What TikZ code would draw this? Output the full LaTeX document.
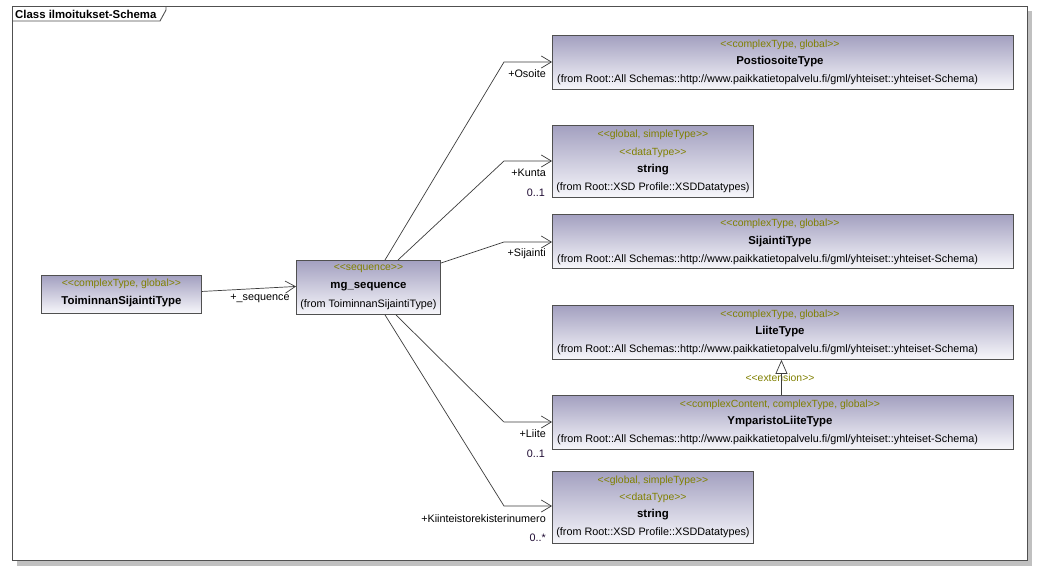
\documentclass[tikz,border=0pt]{standalone}
\usepackage{fontspec}
\setmainfont{Liberation Sans}[Ligatures=TeXOff]
\usetikzlibrary{arrows.meta}
\definecolor{stereo}{RGB}{128,128,0}
\definecolor{boxtop}{RGB}{163,160,192}
\definecolor{boxbot}{RGB}{247,247,251}
\definecolor{boxline}{RGB}{80,80,80}
\definecolor{connline}{RGB}{60,60,60}
\definecolor{shadowgray}{RGB}{192,192,192}
\definecolor{multcol}{RGB}{30,10,50}
\tikzset{
  cls/.style={draw=boxline, line width=0.9pt, top color=boxtop, bottom color=boxbot,
    anchor=north west, inner sep=0pt},
  txt/.style={inner sep=0pt, font=\fontsize{10.8}{12}\selectfont},
  fromw/.style={txt, anchor=west},
  st/.style={inner sep=0pt, text=stereo, font=\fontsize{10.4}{12}\selectfont},
  nm/.style={inner sep=0pt, font=\fontsize{11.4}{13}\selectfont\bfseries},
  lbl/.style={txt, anchor=east},
  mult/.style={txt, anchor=east, text=multcol},
  conn/.style={draw=connline, line width=0.7pt, -{Straight Barb[length=10pt,width=12pt]}},
  gen/.style={draw=connline, line width=0.7pt, -{Triangle[open, length=14pt, width=12pt, fill=white]}}
}
\begin{document}
\begin{tikzpicture}[x=1pt,y=-1pt]
\useasboundingbox (0,0) rectangle (1053,581);
\fill[white] (0,0) rectangle (1053,581);
% frame
\fill[shadowgray] (17,11) rectangle (1032,566);
\draw[boxline, line width=0.9pt, fill=white] (12,6) rectangle (1027,560);
\draw[boxline, line width=0.9pt] (12,21) -- (160,21) -- (166,10) -- (166,6);
\node[nm, anchor=west] (title) at (15,14) {Class ilmoitukset-Schema};

% boxes
\node[cls, minimum width=160pt, minimum height=38pt] (tst) at (41,275) {};
\node[st] (tst-s) at ([yshift=-9pt]tst.north) {<<complexType, global>>};
\node[nm] (tst-n) at ([yshift=-27pt]tst.north) {ToiminnanSijaintiType};

\node[cls, minimum width=144pt, minimum height=54pt] (mgs) at (296,260) {};
\node[st] (mgs-s) at ([yshift=-9pt]mgs.north) {<<sequence>>};
\node[nm] (mgs-n) at ([yshift=-27pt]mgs.north) {mg\_sequence};
\node[txt] (mgs-f) at ([yshift=-45pt]mgs.north) {(from ToiminnanSijaintiType)};

\node[cls, minimum width=461pt, minimum height=54pt] (post) at (552,35) {};
\node[st] (post-s) at ([xshift=-3pt,yshift=-10pt]post.north) {<<complexType, global>>};
\node[nm] (post-n) at ([xshift=-3pt,yshift=-27pt]post.north) {PostiosoiteType};
\node[fromw] (post-f) at ([xshift=5pt,yshift=-45pt]post.north west) {(from Root::All Schemas::http://www.paikkatietopalvelu.fi/gml/yhteiset::yhteiset-Schema)};

\node[cls, minimum width=201pt, minimum height=72pt] (str1) at (552,125) {};
\node[st] (str1-s) at ([yshift=-10pt]str1.north) {<<global, simpleType>>};
\node[st] (str1-d) at ([yshift=-28pt]str1.north) {<<dataType>>};
\node[nm] (str1-n) at ([yshift=-45pt]str1.north) {string};
\node[txt] (str1-f) at ([yshift=-63pt]str1.north) {(from Root::XSD Profile::XSDDatatypes)};

\node[cls, minimum width=461pt, minimum height=54pt] (sij) at (552,214) {};
\node[st] (sij-s) at ([xshift=-3pt,yshift=-10pt]sij.north) {<<complexType, global>>};
\node[nm] (sij-n) at ([xshift=-3pt,yshift=-28pt]sij.north) {SijaintiType};
\node[fromw] (sij-f) at ([xshift=5pt,yshift=-46pt]sij.north west) {(from Root::All Schemas::http://www.paikkatietopalvelu.fi/gml/yhteiset::yhteiset-Schema)};

\node[cls, minimum width=461pt, minimum height=54pt] (liite) at (552,305) {};
\node[st] (liite-s) at ([xshift=-3pt,yshift=-10pt]liite.north) {<<complexType, global>>};
\node[nm] (liite-n) at ([xshift=-3pt,yshift=-27pt]liite.north) {LiiteType};
\node[fromw] (liite-f) at ([xshift=5pt,yshift=-45pt]liite.north west) {(from Root::All Schemas::http://www.paikkatietopalvelu.fi/gml/yhteiset::yhteiset-Schema)};

\node[cls, minimum width=461pt, minimum height=54pt] (ymp) at (552,395) {};
\node[st] (ymp-s) at ([xshift=-3pt,yshift=-10pt]ymp.north) {<<complexContent, complexType, global>>};
\node[nm] (ymp-n) at ([xshift=-3pt,yshift=-27pt]ymp.north) {YmparistoLiiteType};
\node[fromw] (ymp-f) at ([xshift=5pt,yshift=-45pt]ymp.north west) {(from Root::All Schemas::http://www.paikkatietopalvelu.fi/gml/yhteiset::yhteiset-Schema)};

\node[cls, minimum width=201pt, minimum height=72pt] (str2) at (552,471) {};
\node[st] (str2-s) at ([yshift=-10pt]str2.north) {<<global, simpleType>>};
\node[st] (str2-d) at ([yshift=-27pt]str2.north) {<<dataType>>};
\node[nm] (str2-n) at ([yshift=-44pt]str2.north) {string};
\node[txt] (str2-f) at ([yshift=-62pt]str2.north) {(from Root::XSD Profile::XSDDatatypes)};

% bends
\coordinate (b1) at (504,62);
\coordinate (b2) at (504,161);
\coordinate (b3) at (504,242);
\coordinate (b4) at (504,422);
\coordinate (b5) at (504,506);

% connectors
\draw[conn] ([yshift=3pt]tst.east) -- ([yshift=1pt]mgs.west);
\draw[conn] ([xshift=89pt]mgs.north west) -- (b1) -- (b1 -| post.west);
\draw[conn] ([xshift=102pt]mgs.north west) -- (b2) -- (b2 -| str1.west);
\draw[conn] ([yshift=-3pt]mgs.north east) -- (b3) -- (b3 -| sij.west);
\draw[conn] ([xshift=100pt]mgs.south west) -- (b4) -- (b4 -| ymp.west);
\draw[conn] ([xshift=89pt]mgs.south west) -- (b5) -- (b5 -| str2.west);

% generalization
\node[st] (ext) at (780,378) {<<extension>>};
\draw[gen] ([xshift=-1.5pt]ymp.north) -- ([xshift=-1.5pt]liite.south);

% labels
\node[txt] (l-seq) at (260,299) {+\_sequence};
\node[lbl] (l-os) at (546,74) {+Osoite};
\node[lbl] (l-ku) at (546,173) {+Kunta};
\node[mult] (m-ku) at (545,193) {0..1};
\node[lbl] (l-si) at (546,254) {+Sijainti};
\node[lbl] (l-li) at (546,434) {+Liite};
\node[mult] (m-li) at (545,454) {0..1};
\node[lbl] (l-ki) at (546,519) {+Kiinteistorekisterinumero};
\node[mult] (m-ki) at (546,538) {0..*};
\end{tikzpicture}
\end{document}
